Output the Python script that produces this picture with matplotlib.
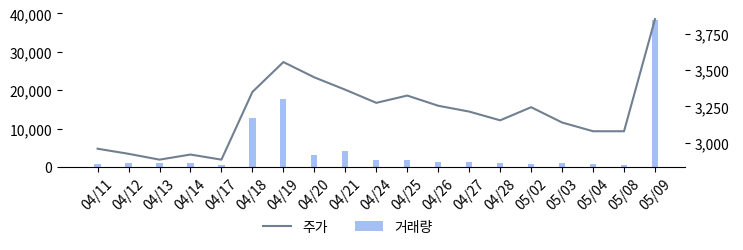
import matplotlib
matplotlib.use("Agg")
import matplotlib.pyplot as plt
from matplotlib.ticker import FuncFormatter

plt.rcParams["font.family"] = ["Noto Sans CJK KR", "DejaVu Sans"]
plt.rcParams["font.size"] = 10

dates = ["04/11", "04/12", "04/13", "04/14", "04/17", "04/18", "04/19", "04/20",
         "04/21", "04/24", "04/25", "04/26", "04/27", "04/28", "05/02", "05/03",
         "05/04", "05/08", "05/09"]
price = [2960, 2925, 2885, 2920, 2885, 3350, 3555, 3450, 3365, 3275, 3325, 3255,
         3215, 3155, 3245, 3140, 3080, 3080, 3850]
volume = [780, 1040, 1040, 1040, 520, 12730, 17660, 3120, 4150, 1820, 1820, 1300,
          1300, 1040, 780, 1040, 780, 520, 38260]

LINE_COLOR = "slategray"
BAR_COLOR = "#a3bff4"

fig = plt.figure(figsize=(7.43, 2.51), dpi=100)
ax = fig.add_axes([0.0834, 0.331, 0.8386, 0.615])
x = list(range(len(dates)))

bars = ax.bar(x, volume, width=0.2, color=BAR_COLOR, label="거래량")
ax.set_ylim(0, 40200)
ax.set_xlim(-1.15, 18.97)
ax.set_yticks([0, 10000, 20000, 30000, 40000])
ax.yaxis.set_major_formatter(FuncFormatter(lambda v, p: f"{v:,.0f}"))
ax.set_xticks(x)
ax.set_xticklabels(dates, rotation=45)
for side in ["left", "right", "top"]:
    ax.spines[side].set_visible(False)

ax2 = ax.twinx()
(line,) = ax2.plot(x, price, color=LINE_COLOR, linewidth=1.5, label="주가")
ax2.set_ylim(2835, 3895)
ax2.set_yticks([3000, 3250, 3500, 3750])
ax2.yaxis.set_major_formatter(FuncFormatter(lambda v, p: f"{v:,.0f}"))
for side in ["left", "right", "top", "bottom"]:
    ax2.spines[side].set_visible(False)

fig.legend(
    [line, bars],
    ["주가", "거래량"],
    loc="center",
    bbox_to_anchor=(0.468, 0.092),
    ncol=2,
    frameon=False,
)

fig.savefig("out.png", dpi=100)
